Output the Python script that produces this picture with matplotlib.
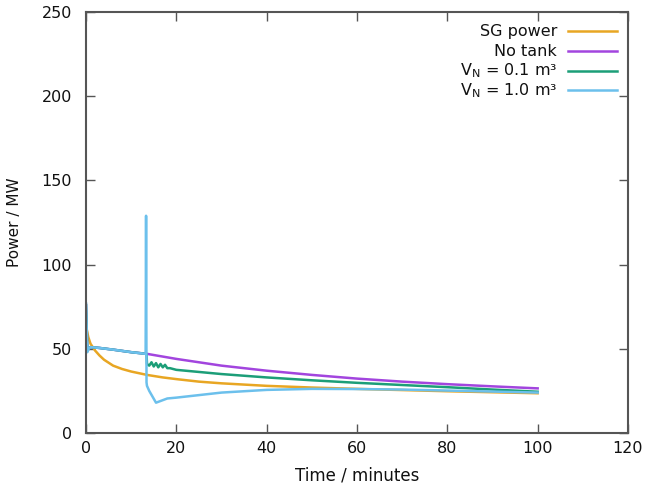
import matplotlib.pyplot as plt

# --- data ---
t_sg = [0, 0.2, 0.5, 1, 1.5, 2, 3, 4, 6, 8, 10, 13.5, 17, 20, 25, 30, 40, 50, 60, 70, 80, 90, 100]
p_sg = [66, 61, 57, 53, 51, 49, 46, 43.5, 40, 38, 36.5, 34.5, 33, 32, 30.5, 29.5, 28, 27, 26.2, 25.5, 24.8, 24.2, 23.6]

t_notank = [0, 0.3, 0.6, 1, 3, 6, 10, 13.5, 20, 30, 40, 50, 60, 70, 80, 90, 100]
p_notank = [76, 49, 50, 51, 50.5, 49.5, 48, 47, 44, 40, 37, 34.5, 32.3, 30.5, 29, 27.7, 26.5]

t_v01 = [0, 0.3, 0.6, 1, 3, 6, 10, 13.4, 13.5, 14, 14.5, 15, 15.5, 16, 16.5, 17, 17.5, 18, 18.6,
         20, 30, 40, 50, 60, 70, 80, 90, 100]
p_v01 = [76, 49, 50, 51, 50.5, 49.5, 48, 47, 41, 40, 42, 39.5, 41.5, 39, 41, 39, 40.5, 38.5, 38.5,
         37.5, 35, 33, 31.3, 29.8, 28.5, 27.2, 25.8, 24.5]

t_v10 = [0, 0.3, 0.6, 1, 3, 6, 10, 13.2, 13.3, 13.4, 13.5, 14, 15.5, 16.5, 17.5, 18,
         20, 25, 30, 40, 50, 60, 70, 80, 90, 100]
p_v10 = [77, 48, 50, 51, 50.5, 49.5, 48, 47, 129, 30, 28, 25, 18, 19, 20, 20.5,
         21, 22.5, 24, 25.6, 26.2, 26.1, 25.8, 25.2, 24.6, 24]

labels = ['SG power', 'No tank', r'V$_\mathregular{N}$ = 0.1 m³',
          r'V$_\mathregular{N}$ = 1.0 m³']
colors = ['#e8a623', '#a245de', '#1c9e78', '#6cc0ec']

plt.rcParams['font.family'] = 'DejaVu Sans'
fig = plt.figure(figsize=(6.71, 4.93), dpi=100)
ax = fig.add_axes([86 / 671, 60 / 493, 542 / 671, 421 / 493])

series = [(t_sg, p_sg), (t_notank, p_notank), (t_v01, p_v01), (t_v10, p_v10)]
for (t, p), c in zip(series, colors):
    ax.plot(t, p, color=c, lw=1.8)

ax.set_xlim(0, 120)
ax.set_ylim(0, 250)
ax.set_xticks(range(0, 121, 20))
ax.set_yticks(range(0, 251, 50))
ax.tick_params(direction='in', length=6.5, width=1, top=True, right=True,
               labelsize=11.5, colors='#555555', labelcolor='#111111')
ax.tick_params(axis='y', pad=10)
ax.tick_params(axis='x', pad=6)
for s in ax.spines.values():
    s.set_linewidth(1.5)
    s.set_color('#555555')

ax.set_xlabel('Time / minutes', fontsize=12, labelpad=7, color='#111111')
ax.set_ylabel('Power / MW', fontsize=11, labelpad=14, color='#111111')

# gnuplot-style key: right aligned labels, line samples to the right
def ax_xy(px, py):
    return (px - 86) / 542, (433 - py) / 421

rows_y = [31, 50.5, 70.5, 90]
for lab, c, ry in zip(labels, colors, rows_y):
    tx, ty = ax_xy(557, ry + 5)
    ax.text(tx, ty, lab, transform=ax.transAxes, ha='right', va='baseline',
            fontsize=11.5, color='#111111')
    x0, y0 = ax_xy(568, ry)
    x1, _ = ax_xy(617, ry)
    ax.plot([x0, x1], [y0, y0], transform=ax.transAxes, color=c, lw=1.8)

fig.savefig('out.png', dpi=100)
